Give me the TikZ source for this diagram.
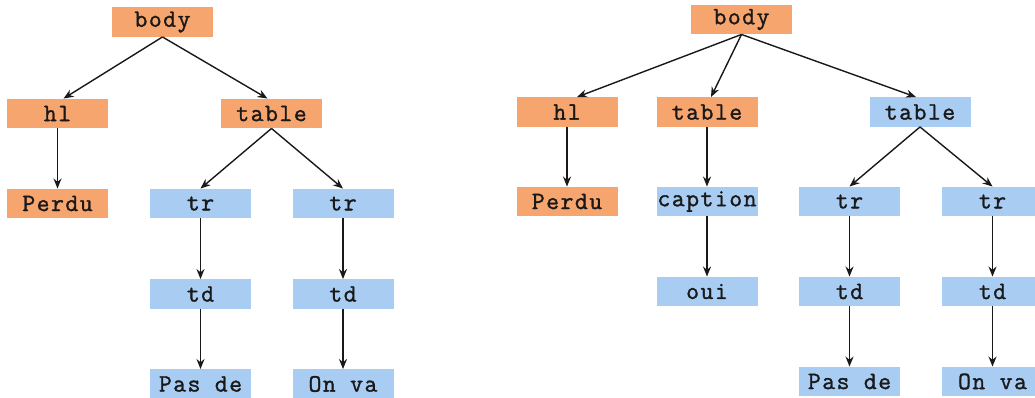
\documentclass[tikz,border=0pt]{standalone}
\usepackage{fontspec}
\newfontfamily\boxfont{Latin Modern Mono}[FakeBold=1.3,LetterSpace=6]
\usetikzlibrary{arrows.meta}
\definecolor{orng}{HTML}{F7A56E}
\definecolor{blu}{HTML}{A9CCF3}
\begin{document}
\begin{tikzpicture}[x=1pt,y=-1pt,
  box/.style={minimum width=101pt,minimum height=29.5pt,inner sep=0pt,
    font=\boxfont\fontsize{25}{25}\selectfont,text=black!90},
  ob/.style={box,fill=orng},
  bb/.style={box,fill=blu},
  arr/.style={line width=1.4pt,black!90,-{Stealth[length=10pt,width=8pt]}}]
\useasboundingbox (0,0) rectangle (1035,398);
% left tree
\node[ob] (lbody) at (162.5,22) {body};
\node[ob] (lhl) at (57.5,113.5) {hl};
\node[ob] (ltable) at (271.5,113.5) {table};
\node[ob] (lperdu) at (57.5,203.5) {Perdu};
\node[bb] (ltra) at (200.5,203.5) {tr};
\node[bb] (ltrb) at (343,203.5) {tr};
\node[bb] (ltda) at (200.5,294) {td};
\node[bb] (ltdb) at (343,294) {td};
\node[bb] (lpas) at (200.5,384) {Pas de};
\node[bb] (lon) at (343,384) {On va};
\draw[arr] (lbody.south) -- ([xshift=6pt]lhl.north);
\draw[arr] (lbody.south) -- ([xshift=-4pt]ltable.north);
\draw[arr] (lhl.south) -- (lperdu.north);
\draw[arr] (ltable.south) -- (ltra.north);
\draw[arr] (ltable.south) -- (ltrb.north);
\draw[arr] (ltra.south) -- (ltda.north);
\draw[arr] (ltrb.south) -- (ltdb.north);
\draw[arr] (ltda.south) -- (lpas.north);
\draw[arr] (ltdb.south) -- (lon.north);
% right tree
\node[ob] (rbody) at (741.5,19.5) {body};
\node[ob] (rhl) at (567,112) {hl};
\node[ob] (rtableo) at (707,112) {table};
\node[bb] (rtableb) at (920,112) {table};
\node[ob] (rperdu) at (567,201.5) {Perdu};
\node[bb] (rcap) at (707,201.5) {caption};
\node[bb] (rtra) at (849.5,201.5) {tr};
\node[bb] (rtrb) at (992.5,201.5) {tr};
\node[bb] (roui) at (707,291.5) {oui};
\node[bb] (rtda) at (849.5,291.5) {td};
\node[bb] (rtdb) at (992.5,291.5) {td};
\node[bb] (rpas) at (849.5,381.5) {Pas de};
\node[bb] (ron) at (992.5,381.5) {On va};
\draw[arr] (rbody.south) -- ([xshift=10pt]rhl.north);
\draw[arr] (rbody.south) -- ([xshift=4pt]rtableo.north);
\draw[arr] (rbody.south) -- ([xshift=-4pt]rtableb.north);
\draw[arr] (rhl.south) -- (rperdu.north);
\draw[arr] (rtableo.south) -- (rcap.north);
\draw[arr] (rtableb.south) -- (rtra.north);
\draw[arr] (rtableb.south) -- (rtrb.north);
\draw[arr] (rcap.south) -- (roui.north);
\draw[arr] (rtra.south) -- (rtda.north);
\draw[arr] (rtrb.south) -- (rtdb.north);
\draw[arr] (rtda.south) -- (rpas.north);
\draw[arr] (rtdb.south) -- (ron.north);
\end{tikzpicture}
\end{document}
